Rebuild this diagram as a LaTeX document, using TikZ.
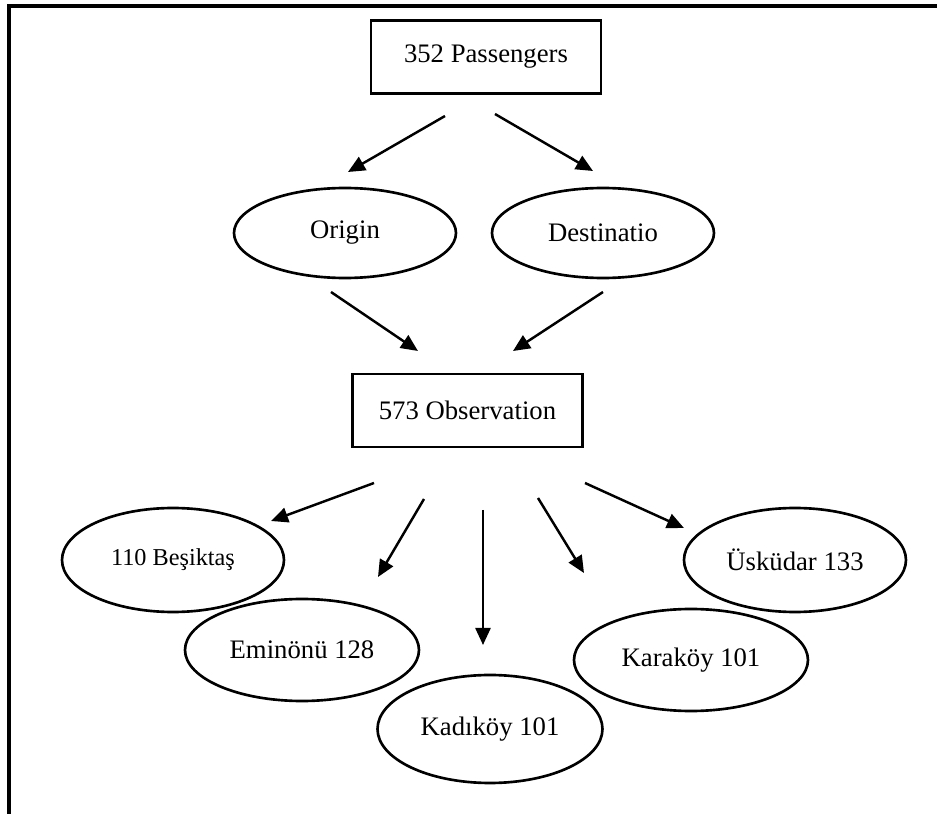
\documentclass[tikz,border=0pt]{standalone}
\usepackage{fontspec}
\setmainfont{Liberation Serif}
\usetikzlibrary{arrows.meta}
\usetikzlibrary{shapes.geometric}

\begin{document}
\begin{tikzpicture}[countbox/.style={
      draw=black,
      line width=.75pt,
      inner sep=0pt,
      minimum width=2.3cm,
      minimum height=0.73cm,
      font=\fontsize{7.6}{9}\selectfont
    },
    place/.style={
      ellipse,
      draw=black,
      line width=.75pt,
      inner sep=0pt,
      font=\fontsize{7.6}{9}\selectfont
    },
    flow/.style={-{Triangle[length=1.7mm,width=1.5mm]},line width=.7pt}]

\useasboundingbox (0,0) rectangle (9.37,-8.14);
\draw[line width=.9pt] (9.37,-0.06) -- (0.09,-0.06) -- (0.09,-8.14);

\node[countbox] (pass) at (4.86,-0.57) {352 Passengers};
\node[place,minimum width=2.22cm,minimum height=0.9cm] (orig) at (3.45,-2.33) {Origin};
\node[place,minimum width=2.22cm,minimum height=0.9cm] (dest) at (6.03,-2.33) {\raisebox{-2pt}{Destinatio}};
\node[countbox] (obs) at (4.675,-4.105) {573 Observation};

\node[place,minimum width=2.22cm,minimum height=1.04cm,font=\fontsize{6.9}{8}\selectfont] (besiktas) at (1.73,-5.60) {110 Beşiktaş};
\node[place,minimum width=2.34cm,minimum height=1.02cm] (eminonu) at (3.02,-6.50) {Eminönü 128};
\node[place,minimum width=2.25cm,minimum height=1.08cm] (kadikoy) at (4.90,-7.29) {Kadıköy 101};
\node[place,minimum width=2.34cm,minimum height=1.02cm] (karakoy) at (6.91,-6.60) {Karaköy 101};
\node[place,minimum width=2.22cm,minimum height=1.04cm] (uskudar) at (7.95,-5.60) {Üsküdar 133};

% arrow ends, the arrows float between the shapes
\coordinate (pass-l) at (4.45,-1.16);
\coordinate (pass-r) at (4.95,-1.14);
\coordinate (orig-in) at (3.48,-1.72);
\coordinate (dest-in) at (5.93,-1.71);
\coordinate (orig-out) at (3.31,-2.92);
\coordinate (dest-out) at (6.03,-2.92);
\coordinate (obs-l) at (4.18,-3.51);
\coordinate (obs-r) at (5.13,-3.51);

\coordinate (obs-1) at (3.74,-4.83);
\coordinate (obs-2) at (4.24,-4.99);
\coordinate (obs-3) at (4.83,-5.10);
\coordinate (obs-4) at (5.38,-4.98);
\coordinate (obs-5) at (5.85,-4.83);
\coordinate (besiktas-in) at (2.71,-5.21);
\coordinate (eminonu-in) at (3.78,-5.77);
\coordinate (kadikoy-in) at (4.83,-6.45);
\coordinate (karakoy-in) at (5.84,-5.73);
\coordinate (uskudar-in) at (6.84,-5.28);

\draw[flow] (pass-l) -- (orig-in);
\draw[flow] (pass-r) -- (dest-in);
\draw[flow] (orig-out) -- (obs-l);
\draw[flow] (dest-out) -- (obs-r);

\draw[flow] (obs-1) -- (besiktas-in);
\draw[flow] (obs-2) -- (eminonu-in);
\draw[flow] (obs-3) -- (kadikoy-in);
\draw[flow] (obs-4) -- (karakoy-in);
\draw[flow] (obs-5) -- (uskudar-in);

\end{tikzpicture}
\end{document}
